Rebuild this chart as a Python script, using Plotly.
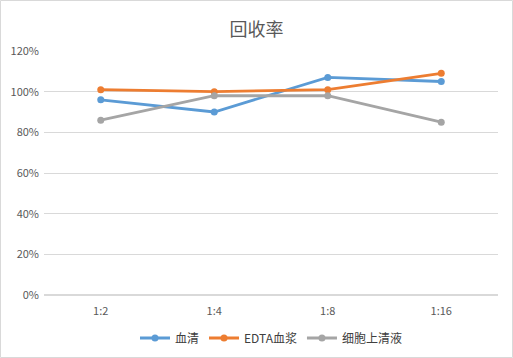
import plotly.graph_objects as go

categories = ["1:2", "1:4", "1:8", "1:16"]
serum = [0.96, 0.90, 1.07, 1.05]
edta = [1.01, 1.00, 1.01, 1.09]
cell = [0.86, 0.98, 0.98, 0.85]
series_names = ["血清", "EDTA血浆", "细胞上清液"]
colors = ["#5B9BD5", "#ED7D31", "#A5A5A5"]

W, H = 513, 358
ml, mr, mt, mb = 44, 15, 51, 63

fig = go.Figure()
for name, vals, c in zip(series_names, [serum, edta, cell], colors):
    fig.add_trace(go.Scatter(
        x=categories, y=vals, name=name, mode="lines+markers",
        line=dict(color=c, width=2.8), marker=dict(color=c, size=7),
    ))

pw = W - ml - mr
ph = H - mt - mb
fig.add_shape(type="rect", xref="paper", yref="paper",
              x0=(-ml + 0.5) / pw, x1=(pw + mr - 0.5) / pw,
              y0=(-mb + 0.5) / ph, y1=(ph + mt - 0.5) / ph,
              line=dict(color="#D9D9D9", width=1), layer="below")

fig.update_layout(
    width=W, height=H,
    margin=dict(l=ml, r=mr, t=mt, b=mb, autoexpand=False),
    paper_bgcolor="white", plot_bgcolor="white",
    font=dict(family="Noto Sans CJK SC, sans-serif", color="#595959", size=11),
    title=dict(text="回收率", x=0.5, xanchor="center", y=1 - 30 / H, yanchor="middle",
               font=dict(size=18, color="#595959", family="Noto Sans CJK SC, sans-serif")),
    xaxis=dict(type="category", range=[-0.5, 3.5], showgrid=False, showline=False,
               automargin=False, ticks="", ticklabelstandoff=8,
               tickfont=dict(size=11, color="#595959")),
    yaxis=dict(range=[0, 1.2], dtick=0.2, tickformat=".0%", showgrid=True, automargin=False,
               gridcolor="#D9D9D9", gridwidth=1, zeroline=True, zerolinecolor="#D9D9D9",
               ticks="", ticklabelstandoff=4, tickfont=dict(size=11, color="#595959"),
               fixedrange=True),
    legend=dict(orientation="h", x=0.5, xanchor="center", y=-(338 - 295) / ph, yanchor="middle",
                font=dict(size=12, color="#404040"), itemwidth=30, tracegroupgap=0),
    showlegend=True,
)

fig.write_html("out.html", config={"displayModeBar": False},
               post_script="document.body.style.margin='0';document.body.style.overflow='hidden';")
